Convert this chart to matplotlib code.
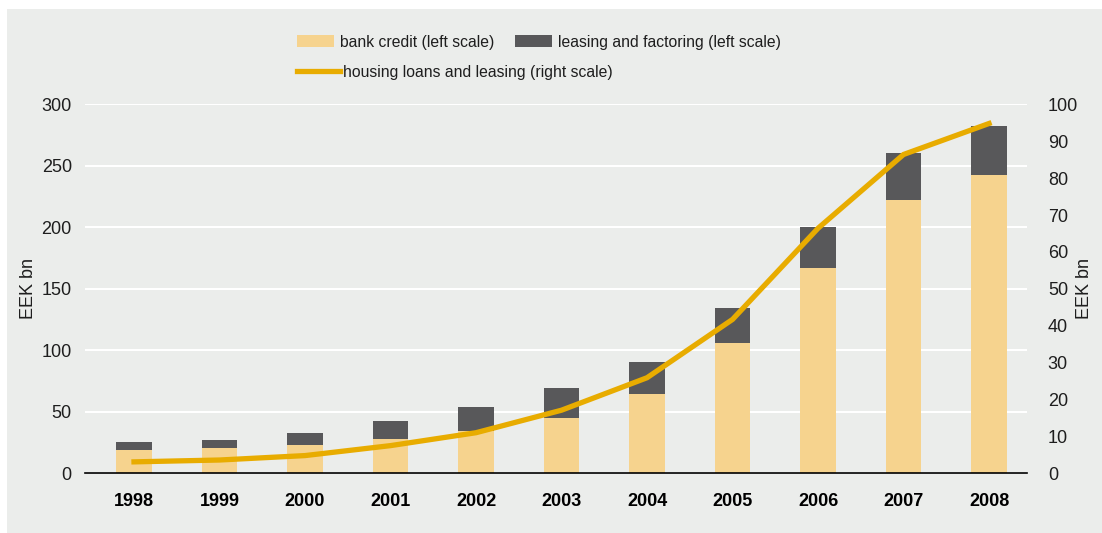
import matplotlib
matplotlib.use("Agg")
import matplotlib.pyplot as plt
from matplotlib.patches import Rectangle, Patch
from matplotlib.lines import Line2D
import numpy as np

plt.rcParams['font.family'] = ['Liberation Sans', 'DejaVu Sans']

years = ['1998', '1999', '2000', '2001', '2002', '2003', '2004', '2005', '2006', '2007', '2008']
bank_credit = [18.9, 20.6, 23.0, 27.9, 34.4, 44.9, 64.4, 105.8, 166.9, 222.2, 242.5]
leasing_total = [25.4, 27.1, 32.7, 42.5, 53.9, 69.3, 90.4, 134.3, 200.2, 260.4, 282.4]
leasing_factoring = [t - b for t, b in zip(leasing_total, bank_credit)]
housing = [3.1, 3.6, 4.8, 7.5, 11.0, 17.1, 25.9, 41.7, 66.4, 86.4, 94.8]

left_ticks = [0, 50, 100, 150, 200, 250, 300]
right_ticks = [0, 10, 20, 30, 40, 50, 60, 70, 80, 90, 100]

C_BANK = '#F6D38E'
C_LEASE = '#58585A'
C_LINE = '#E8AC00'
C_PANEL = '#EBEDEB'
C_TEXT = '#1E1E1E'

W, H = 1102, 533
fig = plt.figure(figsize=(W / 100, H / 100), dpi=100)
fig.patch.set_facecolor('white')
fig.patches.append(Rectangle((7 / W, 0), 1 - 7 / W, 1 - 9 / H, transform=fig.transFigure,
                             facecolor=C_PANEL, edgecolor='none', zorder=-10))

ax = fig.add_axes([85 / W, (H - 473.3) / H, (1027 - 85) / W, (473.3 - 104.3) / H])
ax.set_facecolor('none')
x = np.arange(len(years))
width = 0.42
ax.bar(x, bank_credit, width, color=C_BANK, zorder=2)
ax.bar(x, leasing_factoring, width, bottom=bank_credit, color=C_LEASE, zorder=2)

ax.set_xlim(-0.573, 10.444)
ax.set_ylim(0, 300)
ax.set_yticks(left_ticks)
ax.yaxis.grid(True, color='white', linewidth=1.5, zorder=0)
ax.set_axisbelow(True)
for s in ['top', 'right', 'left']:
    ax.spines[s].set_visible(False)
ax.spines['bottom'].set_color('black')
ax.spines['bottom'].set_linewidth(1.2)
ax.spines['bottom'].set_zorder(5)
ax.tick_params(axis='both', length=0)
ax.tick_params(axis='y', labelsize=13, pad=9.5, colors=C_TEXT)
ax.set_xticks(x)
ax.set_xticklabels(years, fontsize=13, fontweight='bold')
ax.tick_params(axis='x', pad=14)
ax.set_ylabel('EEK bn', fontsize=13, color=C_TEXT)
ax.yaxis.set_label_coords(-48 / (1027 - 85), 0.5)

ax2 = ax.twinx()
ax2.plot(x, housing, color=C_LINE, linewidth=3.8, zorder=4, solid_joinstyle='miter')
ax2.set_ylim(0, 100)
ax2.set_yticks(right_ticks)
for s in ax2.spines.values():
    s.set_visible(False)
ax2.tick_params(axis='y', length=0, labelsize=13, pad=15, colors=C_TEXT)
ax2.set_ylabel('EEK bn', fontsize=13, color=C_TEXT)
ax2.yaxis.set_label_coords(1 + 49 / (1027 - 85), 0.5)

h1 = [Patch(facecolor=C_BANK, edgecolor='none', label='bank credit (left scale)'),
      Patch(facecolor=C_LEASE, edgecolor='none', label='leasing and factoring (left scale)')]
fig.legend(handles=h1, loc='center left', bbox_to_anchor=(297 / W, 1 - 42 / H),
           ncol=2, frameon=False, fontsize=11.3, handlelength=2.35, handleheight=0.8,
           handletextpad=0.4, columnspacing=1.3, borderpad=0, borderaxespad=0,
           labelcolor=C_TEXT)
h2 = [Line2D([], [], color=C_LINE, linewidth=3.8, label='housing loans and leasing (right scale)')]
fig.legend(handles=h2, loc='center left', bbox_to_anchor=(297 / W, 1 - 72 / H),
           frameon=False, fontsize=11.3, handlelength=2.75, handletextpad=0.15,
           borderpad=0, borderaxespad=0, labelcolor=C_TEXT)

fig.savefig('out.png', dpi=100, facecolor=fig.get_facecolor())
